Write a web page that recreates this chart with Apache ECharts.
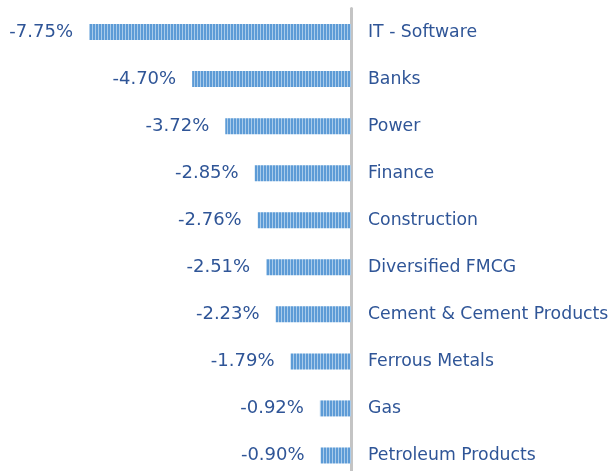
<!DOCTYPE html>
<html>
<head>
<meta charset="utf-8">
<script src="https://cdn.jsdelivr.net/npm/echarts@6/dist/echarts.min.js"></script>
<style>
  html, body { margin: 0; padding: 0; background: #fff; overflow: hidden; }
  #chart { width: 613px; height: 479px; }
</style>
</head>
<body>
<div id="chart"></div>
<script>
var sectors = ['IT - Software', 'Banks', 'Power', 'Finance', 'Construction',
               'Diversified FMCG', 'Cement & Cement Products', 'Ferrous Metals',
               'Gas', 'Petroleum Products'];
var changes = [-7.75, -4.70, -3.72, -2.85, -2.76, -2.51, -2.23, -1.79, -0.92, -0.90];

// striped fill for the bars
function stripes() {
    var c = document.createElement('canvas');
    c.width = 3;
    c.height = 4;
    var ctx = c.getContext('2d');
    ctx.fillStyle = '#a9cbea';
    ctx.fillRect(0, 0, 3, 4);
    ctx.fillStyle = '#5d9bd6';
    ctx.fillRect(0, 0, 2, 4);
    return c;
}

var chartDom = document.getElementById('chart');
var myChart = echarts.init(chartDom);
var option;

option = {
    animation: false,
    grid: {
        left: 13,
        right: 262,
        top: 8.5,
        bottom: 0,
        outerBoundsMode: 'none'
    },
    xAxis: {
        type: 'value',
        min: -10,
        max: 0,
        show: false
    },
    yAxis: {
        type: 'category',
        data: sectors,
        inverse: true,
        position: 'right',
        axisLine: {
            show: true,
            lineStyle: { color: '#c4c4c4', width: 3 }
        },
        axisTick: { show: false },
        axisLabel: {
            margin: 17,
            color: '#2f5597',
            fontFamily: 'DejaVu Sans',
            fontSize: 17.3
        }
    },
    series: [{
        type: 'bar',
        data: changes,
        barWidth: 16,
        itemStyle: {
            color: { image: stripes(), repeat: 'repeat' }
        },
        label: {
            show: true,
            position: 'left',
            distance: 16,
            color: '#2f5597',
            fontFamily: 'DejaVu Sans',
            fontSize: 18,
            formatter: function (p) {
                return p.value.toFixed(2) + '%';
            }
        }
    }]
};

option && myChart.setOption(option);
</script>
</body>
</html>
